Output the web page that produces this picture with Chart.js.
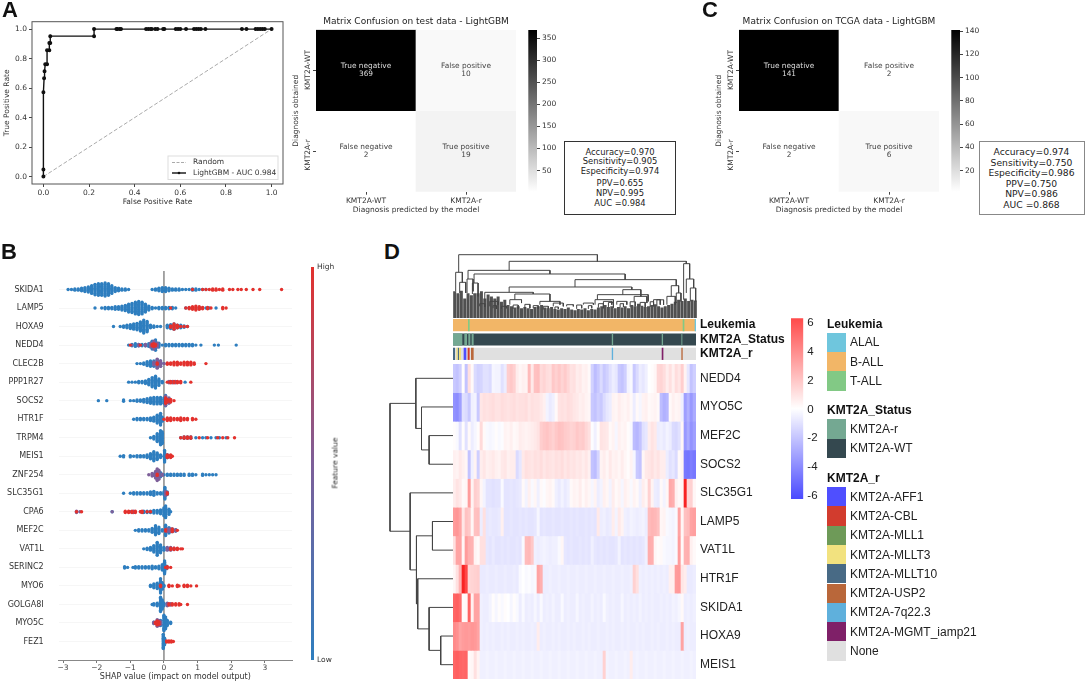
<!DOCTYPE html>
<html>
<head>
<meta charset="utf-8">
<title>KMT2A LightGBM figure</title>
<script src="https://cdn.jsdelivr.net/npm/chart.js@4"></script>
<style>
  body { margin: 0; background: #fff; width: 1086px; height: 683px; position: relative; overflow: hidden; }
  canvas { position: absolute; }
  .note { position: absolute; white-space: nowrap; color: #222; line-height: 1; }
  .box { position: absolute; box-sizing: border-box; background: #fff; }
  .swatch { position: absolute; left: 827px; width: 19px; }
</style>
</head>
<body>
<script>
// ---- panel A/C data
const rocFpr = [0,0,0,0.003,0.005,0.008,0.016,0.016,0.026,0.026,0.03,0.03,0.222,0.222,0.32,0.325,0.335,0.34,0.45,0.46,0.47,0.475,0.49,0.5,0.525,0.53,0.58,0.59,0.6,0.625,0.66,0.67,0.68,0.69,0.71,0.87,0.89,0.93,0.94,0.95,0.96,0.97,1];
const rocTpr = [0,0.048,0.571,0.667,0.714,0.762,0.762,0.857,0.857,0.905,0.905,0.952,0.952,1,1,1,1,1,1,1,1,1,1,1,1,1,1,1,1,1,1,1,1,1,1,1,1,1,1,1,1,1,1];
const rateTicks = [0,0.2,0.4,0.6,0.8,1];

const cmCols = ['KMT2A-WT','KMT2A-r'];
const cmNames = [['True negative','False positive'],['False negative','True positive']];
const cmTest = [[369,10],[2,19]];
const cmTcga = [[141,2],[2,6]];
const cbTicksTest = [50,100,150,200,250,300,350];
const cbTicksTcga = [20,40,60,80,100,120,140];
const statsTest = ['Accuracy=0.970','Sensitivity=0.905','Especificity=0.974','PPV=0.655','NPV=0.995','AUC =0.984'];
const statsTcga = ['Accuracy=0.974','Sensitivity=0.750','Especificity=0.986','PPV=0.750','NPV=0.986','AUC =0.868'];

// ---- panel B data, [shap value, how many samples]
const swarmFeatures = ['SKIDA1','LAMP5','HOXA9','NEDD4','CLEC2B','PPP1R27','SOCS2','HTR1F','TRPM4','MEIS1','ZNF254','SLC35G1','CPA6','MEF2C','VAT1L','SERINC2','MYO6','GOLGA8I','MYO5C','FEZ1'];
const swarmLow = [
  [[-2.85,1],[-2.75,1],[-2.65,2],[-2.55,2],[-2.45,3],[-2.35,4],[-2.25,5],[-2.15,7],[-2.05,9],[-1.95,10],[-1.85,10],[-1.75,11],[-1.65,10],[-1.55,7],[-1.45,4],[-1.35,3],[-1.25,2],[-1.15,2],[-1.05,1],[-0.35,1],[-0.25,2],[-0.15,3],[-0.05,4],[0.05,4],[0.15,3],[0.25,2],[0.35,2],[0.45,2],[0.55,1],[0.65,1],[0.75,1],[0.85,2],[0.95,2],[1.05,1],[1.15,1],[1.25,1]],
  [[-2.05,1],[-1.85,1],[-1.75,2],[-1.65,2],[-1.55,2],[-1.45,3],[-1.35,3],[-1.25,4],[-1.15,5],[-1.05,7],[-0.95,8],[-0.85,10],[-0.75,11],[-0.65,10],[-0.55,7],[-0.45,4],[-0.35,2],[-0.25,1],[-0.15,2],[-0.05,2],[0.05,2],[0.15,2],[0.25,2],[0.35,1],[0.65,1],[0.75,1],[0.85,1],[1.05,2],[1.15,1],[1.25,1],[1.35,1],[1.55,1]],
  [[-1.5,1],[-1.3,1],[-1.2,2],[-1.1,3],[-1,4],[-0.9,5],[-0.8,6],[-0.7,8],[-0.6,11],[-0.5,9],[-0.4,3],[-0.3,2],[-0.2,1],[-0.1,1],[0.1,3],[0.2,4],[0.3,5],[0.4,3],[0.5,3],[0.6,2],[0.7,1]],
  [[-1.05,1],[-0.95,2],[-0.85,3],[-0.75,2],[-0.65,2],[-0.55,2],[-0.45,3],[-0.35,7],[-0.25,9],[-0.15,4],[-0.05,1],[0.05,2],[0.15,2],[0.25,2],[0.35,2],[0.45,2],[0.55,2],[0.65,2],[0.75,2],[0.85,2],[0.95,1],[1.1,1],[1.5,1],[1.62,1],[2.15,1]],
  [[-0.8,1],[-0.7,1],[-0.6,2],[-0.5,4],[-0.4,5],[-0.3,5],[-0.2,7],[-0.1,5],[0,1]],
  [[-1.05,1],[-0.95,1],[-0.85,1],[-0.75,2],[-0.65,2],[-0.55,3],[-0.45,5],[-0.35,8],[-0.25,10],[-0.15,6],[-0.05,2],[0.63,1]],
  [[-1.95,1],[-1.7,1],[-1.2,2],[-1,1],[-0.9,1],[-0.8,2],[-0.7,2],[-0.6,3],[-0.5,4],[-0.4,5],[-0.3,6],[-0.2,6],[-0.1,6],[0,5],[0.05,9]],
  [[-0.9,1],[-0.8,2],[-0.7,2],[-0.6,2],[-0.5,2],[-0.4,3],[-0.3,4],[-0.2,7],[-0.1,10],[-0.05,4]],
  [[-0.4,1],[-0.3,3],[-0.2,7],[-0.1,12],[-0.05,10],[0.5,1],[0.6,2],[0.7,2],[0.8,2],[0.95,1],[1.15,1],[1.25,1],[1.4,1],[1.55,1],[1.65,1],[1.85,1]],
  [[-1.3,1],[-1.2,2],[-1,2],[-0.9,1],[-0.8,2],[-0.7,2],[-0.6,2],[-0.5,3],[-0.4,5],[-0.3,8],[-0.2,6],[-0.1,3],[0,1],[0.02,10],[0.1,3]],
  [[-0.3,2],[-0.2,6],[-0.1,4],[0,1],[0.1,2],[0.2,2],[0.3,2],[0.4,2],[0.5,2],[0.6,2],[0.75,2],[0.85,2],[0.95,1],[1.15,2],[1.25,1],[1.35,1],[1.45,1],[1.55,1]],
  [[-1.2,1],[-1,1],[-0.9,2],[-0.8,2],[-0.7,2],[-0.6,2],[-0.5,2],[-0.4,3],[-0.3,4],[-0.2,2],[-0.1,2],[0,3],[0.03,10],[0.1,3]],
  [[-1.54,1],[-0.7,1],[-0.6,2],[-0.5,2],[-0.4,2],[-0.3,3],[-0.2,3],[-0.1,4],[0,7],[0.05,10],[0.15,5],[0.2,1]],
  [[-0.85,1],[-0.75,2],[-0.65,2],[-0.55,2],[-0.45,2],[-0.35,4],[-0.25,8],[-0.15,6],[-0.05,2],[0.05,9],[0.15,5],[0.25,3],[0.35,2]],
  [[-0.6,1],[-0.5,2],[-0.4,3],[-0.3,6],[-0.2,11],[-0.1,7],[0,3],[0.1,2],[0.2,2]],
  [[-1.17,2],[-1.08,1],[-0.92,1],[-0.85,2],[-0.75,2],[-0.65,2],[-0.55,2],[-0.45,2],[-0.35,3],[-0.25,2],[-0.15,3],[-0.05,5],[0.02,11],[0.08,3]],
  [[-0.4,2],[-0.3,4],[-0.2,5],[-0.1,12],[-0.05,6],[0,2]],
  [[-0.35,1],[-0.3,2],[-0.2,3],[-0.1,12],[-0.05,8],[0,3]],
  [[-0.3,2],[-0.2,3],[-0.1,5],[0,13],[0.05,10],[0.1,5],[0.2,2]],
  [[-0.02,12],[0.02,6]]
];
const swarmMid = [
  [],[],[],
  [[-0.95,1],[-0.75,2],[-0.55,2],[-0.4,4],[-0.3,7],[-0.2,4]],
  [[-0.3,3],[-0.2,8],[-0.1,5],[0,1]],
  [[0.15,2],[0.25,2],[0.35,2],[0.45,1]],
  [[0.05,8],[0.15,5]],
  [[0.1,1]],
  [],
  [[0.1,3],[0.2,2]],
  [[-0.45,1],[-0.35,3],[-0.25,6],[-0.2,10],[-0.15,8],[-0.05,2]],
  [[0.05,4]],
  [[-2.6,2],[-2.5,1],[-1.54,1],[-1,1],[-0.9,2]],
  [[0.1,3],[0.2,3],[0.35,2]],
  [[0.1,3],[0.2,3],[0.3,2]],
  [],[],
  [[0.1,3],[0.2,2]],
  [[-0.3,2],[-0.2,6],[-0.15,5],[-0.1,3]],
  []
];
const swarmHigh = [
  [[0.85,1],[1.15,1],[1.25,1],[1.35,1],[1.45,2],[1.55,2],[1.65,1],[1.75,2],[1.95,1],[2.05,1],[2.2,1],[2.3,1],[2.45,1],[2.65,1],[2.85,1],[3.5,1]],
  [[0.2,1],[0.65,1],[0.75,2],[0.85,3],[0.95,4],[1.05,3],[1.15,2],[1.3,2],[1.4,1],[1.75,2],[1.85,1]],
  [[0.2,2],[0.3,5],[0.4,3],[0.5,1],[0.6,1],[0.7,1]],
  [[-1,1],[-0.7,1],[-0.35,2],[-0.3,3],[-0.25,2]],
  [[-0.2,2],[0.1,2],[0.2,2],[0.3,3],[0.4,3],[0.5,2],[0.6,3],[0.7,3],[0.8,3],[0.9,2],[1.25,1]],
  [[0.1,1],[0.2,2],[0.3,2],[0.4,2],[0.5,2],[0.8,1]],
  [[0.05,5],[0.1,3],[0.2,3],[0.3,1]],
  [[0,1],[0.1,3],[0.2,3],[0.3,2],[0.4,2],[0.5,3],[0.6,2],[0.7,2],[0.85,2],[0.95,1]],
  [[0.5,1],[0.6,2],[0.7,2],[0.8,2],[1.05,1],[1.3,1],[1.6,1],[1.75,1],[1.9,1],[2.1,1]],
  [[0.1,3],[0.2,3],[0.25,1]],
  [[-0.2,2]],
  [[0.1,2]],
  [[-2.6,1],[-2.45,1],[-1.15,2],[-1.05,2],[-0.95,2],[-0.85,2],[-0.7,1],[-0.65,2],[-0.5,1],[-0.4,1]],
  [[0.05,2],[0.25,3],[0.4,1]],
  [[0.2,2],[0.3,2],[0.4,2],[0.5,1],[0.55,1]],
  [[0.05,1],[0.1,2],[0.2,1]],
  [[-0.1,2],[0.15,2],[0.25,1],[0.4,2],[0.45,1],[0.6,2],[0.7,2],[0.8,1],[0.97,1]],
  [[0.15,2],[0.25,2],[0.35,2],[0.45,2],[0.5,1],[0.7,1]],
  [[-0.25,2],[-0.2,4],[-0.15,3]],
  [[0.08,2],[0.15,2],[0.22,2],[0.28,1]]
];
const shapTicks = [-3,-2,-1,0,1,2,3];

// ---- panel D data
const heatRows = ['NEDD4','MYO5C','MEF2C','SOCS2','SLC35G1','LAMP5','VAT1L','HTR1F','SKIDA1','HOXA9','MEIS1'];
const heatNEDD4 = [-1.8,-2,-1.6,0.1,-2,1,0.2,-1.2,-1.5,-1.4,-1,-1,-1.2,-0.3,-0.4,-0.4,-1,-0.6,1.6,1.8,1.5,0.6,0.3,0.5,0.4,2.2,0.7,2,2.1,1.2,1.4,1.1,1,1.8,1.5,1.8,1.4,1.7,1.3,0.9,1,0.6,0.7,0.4,0.5,0.2,-1.5,-2.2,-1.8,-1.2,-1.8,-1.5,-1,-0.6,-0.8,-1.8,-2,-1.6,-0.4,-0.2,-1.8,-1.2,-0.6,-0.8,-0.5,0,0.1,0.3,1.3,1.4,1.1,0.6,1,0.5,1.1,0.8,1.6,0.4,-0.8,-2,-1.6];
const heatMYO5C = [-3.6,-3.8,-3.2,-1,-1.2,-1.8,-0.5,-0.4,-1.8,0.8,1,0.9,1,1.1,0.9,0.9,1.1,1,0.9,1,1.1,0.9,1,1,1.1,0.8,1,0.9,0.9,0.7,0.5,-0.4,-0.7,-0.5,0.2,0.9,1,0.9,1.1,1,0.8,0.7,0.5,0.6,0.4,0.3,-1.8,-2,-1.6,-1.8,-1.2,-0.8,-0.6,0.4,0.3,0.6,0.4,0.3,0.5,0.2,-0.6,0.2,-0.3,0.4,0.5,0.2,0.3,0.4,0.2,-2.2,-2.6,-2.4,0.2,0.5,0.3,0.4,-0.5,-3.2,-2.6,-3.4,-2.8];
const heatMEF2C = [0.1,-0.2,-1,0.1,-1,0.2,-0.6,-0.3,0.1,1.2,0.2,-0.2,-0.3,-0.2,0.1,-0.2,-0.1,0.4,0.3,0.5,0.2,0.3,0.6,0.5,0.4,0.5,0.6,0.7,0.9,1.6,1.8,1.9,1.7,1.5,1.8,2,1.9,1.7,1.6,1.4,1.5,1.8,1.6,1.7,1.3,1,-0.1,-0.5,0.1,0.9,0.8,0.7,0.2,0.4,-0.3,0.5,0.3,0.4,0.1,-0.2,-2.2,-2.4,-2,-1,-0.8,0.6,0.9,0.7,-0.6,-0.5,-0.7,-0.4,-0.6,-1.2,-1.3,-1,0.3,-3.4,-2.8,-3.6,-3.2];
const heatSOCS2 = [0.5,0.4,0.7,0.5,0.3,-2,-0.5,0.4,-1.6,0.6,0.8,0.5,0.6,0.7,0.5,0.4,0.7,0.8,0.5,0.6,0.6,-1.2,-0.8,0.7,1,0.9,0.8,1,0.9,1.1,0.8,1,0.9,0.8,1,0.9,1.1,0.8,1,0.8,0.9,0.7,0.8,0.6,0.8,0.5,-2,-2.2,-1.4,0.4,0.6,0.3,0.7,0.4,0.5,0.3,0.6,0.3,0.1,0.4,-0.3,-1.8,-2,0.3,0.7,0.8,1,0.7,0.9,0.6,0.6,-0.6,-1,-0.8,-1.2,0.2,0.4,-4.5,-4.6,-4.3,-4.5];
const heatSLC35G1 = [0.6,0.9,0.7,0.2,0.3,3.2,0.4,1.6,1.4,0.3,-0.4,-0.9,-0.9,-1,-0.9,-0.9,-0.2,-0.9,-0.9,-0.8,-0.9,-0.8,-0.7,0.2,-0.4,0.5,-0.2,0.3,-0.5,0.2,-0.1,0.3,0.4,0.2,-0.5,-0.7,-0.4,-0.7,-0.5,0.2,0.4,0.3,0.6,0.2,0.5,0.3,-0.3,0.4,-0.6,-0.4,0.5,0.3,-0.4,0.6,0.2,0.4,-0.3,0.5,0.3,-0.2,0.4,0.2,-0.5,0.6,0.3,1.5,0.4,-0.6,-0.7,0.2,-0.4,0.3,2.8,2.6,0.5,0.2,0.3,6.5,1.4,1.5,0.3];
const heatLAMP5 = [3.2,3.4,3,0.8,2,1.8,0.3,2,2.1,-0.6,1,-0.8,-0.7,-0.8,-0.8,-0.7,0.5,-0.9,-0.9,-0.8,-0.9,-0.9,-0.8,-0.9,-0.8,-0.9,-0.9,-0.8,-0.3,-0.9,-0.8,-0.9,-0.9,-0.8,-0.9,-0.9,-0.8,-0.9,-0.9,-0.8,-0.9,-0.8,-0.9,-0.9,-0.8,-0.9,-0.8,-0.9,0.7,-0.6,-0.5,-0.7,-0.6,0.6,-0.4,0.7,0.4,-0.5,-0.6,-0.4,-0.5,-0.6,-0.5,-0.4,-0.6,2.2,2.4,2.3,2,0.3,0.4,-0.2,-0.3,-0.4,-0.2,3,0.3,2,2.2,3,3.1];
const heatVAT1L = [1,3,3,0.3,3.2,2.6,2.5,0.4,0.2,1,1,-0.8,-0.9,-0.7,-0.9,-0.9,-0.8,-0.9,-0.8,-0.9,-0.9,-0.8,-0.9,-0.2,2.2,2.3,1.8,-0.5,-0.6,-0.5,-0.4,-0.5,-0.6,-0.5,-0.5,-0.2,0.3,-0.8,-0.9,-0.8,-0.9,-0.9,-0.8,-0.9,-0.8,-0.9,-0.5,-0.8,-0.9,-0.8,-0.9,-0.8,-0.9,-0.9,-0.8,-0.4,-0.9,-0.8,-0.9,-0.8,-0.9,-0.8,-0.9,-0.8,-0.5,2.7,2.6,0.3,0.1,0.2,-0.2,-0.3,-0.3,-0.4,-0.2,3.2,0.2,2.5,2.6,0.5,0.2];
const heatHTR1F = [0.3,1,2.5,6.5,6,1.3,1.4,1.5,1.6,-0.7,-0.7,-0.6,-0.7,-0.7,-0.6,-0.7,-0.7,-0.6,-0.7,-0.7,-0.6,-0.7,-0.2,0,-0.2,-0.1,-0.3,-0.2,3,2.6,-0.6,-0.6,-0.5,-0.6,-0.6,-0.5,-0.6,-0.6,-0.5,-0.6,-0.6,-0.5,-0.6,-0.6,-0.5,-0.6,-0.6,-0.5,-0.6,-0.6,-0.5,-0.6,-0.6,-0.5,-0.6,-0.6,-0.5,-0.6,-0.6,-0.5,1.5,1,-0.5,-0.6,-0.5,-0.6,-0.5,-0.6,-0.5,-0.6,-0.5,-0.6,0.5,0.5,3.2,3.3,0.8,0.6,-0.7,-0.7,-0.6];
const heatSKIDA1 = [5,5.2,4.8,0.1,0.2,5,0.5,3,3,-0.5,-0.6,-0.6,-0.4,0.1,-0.3,0.1,-0.2,0.1,0,-0.3,0.1,-0.2,-0.6,-0.2,-0.6,-0.5,-0.6,-0.3,-0.6,-0.2,-0.6,-0.5,-0.6,-0.4,-0.6,-0.6,-0.2,-0.6,-0.5,-0.6,-0.6,-0.3,-0.6,-0.5,-0.6,-0.6,-0.4,-0.6,-0.5,-0.6,-0.2,-0.5,-0.6,-0.5,-0.6,-0.6,-0.3,-0.6,-0.5,-0.6,-0.5,-0.6,-0.4,-0.6,-0.5,-0.6,-0.5,-0.6,-0.6,-0.5,-0.6,-0.5,-0.6,-0.4,-0.5,-0.3,0.2,-0.6,-0.5,-0.6,-0.5];
const heatHOXA9 = [3.8,3.6,3,3.2,3.3,3.2,3.4,3.3,3,-0.5,-0.6,-0.5,-0.6,-0.5,-0.6,-0.6,-0.5,-0.6,-0.5,-0.6,-0.6,-0.5,-0.6,-0.5,-0.6,-0.6,-0.5,-0.6,0.6,-0.6,-0.5,-0.6,-0.6,-0.5,-0.6,-0.5,-0.6,-0.6,-0.5,-0.6,-0.5,-0.6,-0.6,-0.5,-0.6,-0.5,-0.6,-0.6,-0.5,-0.6,-0.6,-0.5,-0.6,-0.5,-0.6,-0.6,-0.5,-0.6,-0.5,-0.6,-0.6,-0.5,-0.6,-0.5,-0.6,-0.6,-0.5,-0.6,-0.5,-0.6,-0.6,-0.5,-0.6,-0.5,-0.6,-0.6,3,-0.6,-0.5,-0.6,-0.6];
const heatMEIS1 = [5,5.2,5,4.9,5,0.2,0.3,1,0.4,-0.5,-0.5,-0.4,-0.5,-0.5,-0.4,-0.5,-0.5,-0.4,-0.5,-0.5,-0.4,-0.5,-0.5,-0.4,-0.5,-0.5,-0.4,-0.5,-0.5,-0.4,-0.5,-0.5,-0.4,-0.5,-0.5,-0.4,-0.5,-0.5,-0.4,-0.5,-0.5,-0.4,-0.5,-0.5,-0.4,-0.5,-0.5,-0.4,-0.5,-0.5,1.5,-0.4,-0.5,-0.5,-0.4,-0.5,-0.5,-0.4,-0.5,0.6,-0.5,-0.4,-0.5,-0.5,-0.4,-0.5,-0.5,-0.4,-0.5,-0.5,-0.4,-0.5,-0.5,-0.4,-0.5,-0.5,-0.4,-0.5,-0.5,-0.4,-0.5];
const heatValues = [heatNEDD4,heatMYO5C,heatMEF2C,heatSOCS2,heatSLC35G1,heatLAMP5,heatVAT1L,heatHTR1F,heatSKIDA1,heatHOXA9,heatMEIS1];
const heatCbTicks = [6,4,2,0,-2,-4,-6];

// annotation tracks, [first sample, last sample, class]; later entries sit underneath
const trackNames = ['Leukemia','KMT2A_Status','KMT2A_r'];
const leukemiaTrack = [[9,10,'T-ALL'],[138,139,'T-ALL'],[145.2,146,'ALAL'],[0,146,'B-ALL']];
const statusTrack = [[0,5.6,'KMT2A-r'],[6.8,8.4,'KMT2A-r'],[9.2,10.4,'KMT2A-r'],[11.2,12.4,'KMT2A-r'],[95.4,96.2,'KMT2A-r'],[125.4,126.2,'KMT2A-r'],[137.2,137.8,'KMT2A-r'],[0,146,'KMT2A-WT']];
const rTrack = [[0,1.2,'KMT2A-MLLT10'],[2,2.8,'KMT2A-MLLT3'],[2.8,3.6,'KMT2A-MLLT10'],[3.6,4.8,'KMT2A-MLLT3'],[6.4,8,'KMT2A-AFF1'],[8.8,10,'KMT2A-CBL'],[10.8,12.4,'KMT2A-USP2'],[95.4,96.2,'KMT2A-7q22.3'],[125.4,126.4,'KMT2A-MGMT_iamp21'],[137.2,138,'KMT2A-USP2'],[0,146,'None']];

const legendLeukemia = [['ALAL','#6fc6dd'],['B-ALL','#f2b667'],['T-ALL','#82c985']];
const legendStatus = [['KMT2A-r','#74a892'],['KMT2A-WT','#34484f']];
const legendR = [['KMT2A-AFF1','#4f4fff'],['KMT2A-CBL','#d23c2e'],['KMT2A-MLL1','#6e9a58'],['KMT2A-MLLT3','#f2e27f'],['KMT2A-MLLT10','#486a85'],['KMT2A-USP2','#b9673a'],['KMT2A-7q22.3','#5fb0dc'],['KMT2A-MGMT_iamp21','#7f2068'],['None','#e0e0e0']];

// dendrograms, [pos a, height a, pos b, height b, join height]
const colMerges = [
  [3.4,70.3,86.4,87.2,97.4],[33.6,73.3,139.6,83.6,87.2],[9,60,58,67.7,73.3],[12.6,53.8,103,59,67.7],
  [73,47.7,133.6,49.7,59],[33.6,39.5,107,43.6,47.7],[101.6,35.9,112.4,33.3,43.6],[19,25.6,48,36.9,39.5],
  [37,28.2,58,25.6,36.9],[34,20.5,41,23,28.2],[52,20.5,64,20.5,25.6],[86.4,28.2,116.8,25.6,35.9],
  [85,20.5,96,20.5,28.2],[108.4,25.6,116,23,33.3],[130.6,33.3,135,38.5,49.7],[128,20.5,133,20.5,33.3],
  [133.6,23,136.4,25.6,38.5],[138,28.2,141.6,60,83.6],[139.6,38.5,144,46.2,60],[142,25.6,145.2,25.6,46.2],
  [1.6,41,5.6,54.9,70.3],[4,38.5,7.6,38.5,54.9],[8.4,38.5,12,41,60],[11.6,36.9,15,33.3,53.8],
  [22,17.9,27,20.5,25.6],[60,17.9,66,17.9,23],[68,17.9,72,17.9,20.5],[78,20.5,84,20.5,23],
  [90,17.9,95,20.5,25.6],[98,20.5,104,20.5,25.6],[120,20.5,124,20.5,28.2],
  [16,18,19,17,22],[24,15,26,14,19],[29,14,32,15,18],[36,14,39,14,20],[43,14,46,15,21],
  [48,15,51,14,19],[54,13,57,14,18],[61,13,63,14,17],[74,14,77,15,20],[81,14,83,15,19],
  [87,16,90,15,22],[93,17,96,16,24],[100,16,102,17,22],[106,17,109,18,25],[112,18,115,17,24],
  [118,17,120,18,25],[122,18,126,20,28]
];
const leafTops = [41,38,42,30,38,35,38,38,41,30,36,33,30,33,25,28,20,18,16,18,15,17,15,14,17,18,20,16,15,17,14,13,15,14,16,13,12,14,13,15,12,14,13,16,18,20,17,18,15,17,16,18,15,20,18,22,19,17,18,20,21,18,16,18,20,22,25,28,26,30,26,28,27];
const rowMerges = [
  [2.5,0,3.5,0,37.9],[1.5,0,3,37.9,50],[0.5,0,2.25,50,59],[5.5,0,6.5,0,32.6],[9.5,0,10.5,0,19.5],
  [8.5,0,10,19.5,37.9],[7.5,0,9.25,37.9,56],[6,32.6,8.375,56,58],[4.5,0,7.19,58,68],[1.375,59,5.84,68,100]
];

// ---- setup
Chart.defaults.font.family = '"DejaVu Sans"';
Chart.defaults.font.size = 7.5;
Chart.defaults.color = '#333';
Chart.defaults.animation = false;
Chart.defaults.responsive = false;
Chart.defaults.plugins.legend.display = false;
Chart.defaults.plugins.tooltip.enabled = false;

const SANS = '"Liberation Sans"';
const trackColors = Object.fromEntries([...legendLeukemia, ...legendStatus, ...legendR]);

function place(left, top, w, h) {
  const c = document.createElement('canvas');
  c.width = w; c.height = h;
  c.style.left = left + 'px'; c.style.top = top + 'px';
  document.body.appendChild(c);
  return c;
}
function note(text, x, y, css, anchor) {
  const d = document.createElement('div');
  d.className = 'note';
  d.textContent = text;
  d.style.cssText = 'left:' + x + 'px;top:' + y + 'px;transform:' + (anchor || 'translate(-50%,-50%)') + ';' + (css || '');
  document.body.appendChild(d);
}
// axis sizes are pinned so each plot area lands where it does in the figure
const fixW = w => s => { s.width = w; s.paddingTop = 0; s.paddingBottom = 0; };
const fixH = h => s => { s.height = h; s.paddingLeft = 0; s.paddingRight = 0; };
const setTicks = list => s => { s.ticks = list.map(value => ({ value })); };
const tickMarks = { drawOnChartArea: false, tickLength: 3, tickColor: '#444' };
const noGrid = { display: false, drawTicks: false };

function grey(v, lo, hi) {
  const g = Math.round(255 * (1 - (v - lo) / (hi - lo)));
  return 'rgb(' + g + ',' + g + ',' + g + ')';
}
function heatColor(v) {
  const t = Math.min(Math.abs(v) / 6, 1);
  if (v < 0) return 'rgb(' + Math.round(255 - 180 * t) + ',' + Math.round(255 - 180 * t) + ',255)';
  const hot = Math.max(0, (v - 6) / 1);
  return 'rgb(' + Math.round(255 - 15 * hot) + ',' + Math.round(255 - 185 * t - 70 * hot) + ',' + Math.round(255 - 185 * t - 70 * hot) + ')';
}
function mergePath(list, swap) {
  const pts = [];
  for (const [a, ha, b, hb, top] of list) {
    for (const [p, h] of [[a, ha], [a, top], [b, top], [b, hb]]) pts.push(swap ? { x: h, y: p } : { x: p, y: h });
    pts.push({ x: null, y: null });
  }
  return pts;
}
function swarmPoints(groups) {
  const pts = [];
  groups.forEach((bins, row) => {
    for (const [x, n] of bins) {
      for (let k = 0; k < n; k++) pts.push({ x: x, y: row + (k - (n - 1) / 2) * 0.07 });
    }
  });
  return pts;
}

// ---- colour bars, one floating bar filled with a gradient
function colorBar(left, top, w, h, pad, range, ticks, stops, opts) {
  new Chart(place(left, top, w, h), {
    type: 'bar',
    data: {
      labels: [''],
      datasets: [{
        data: [range],
        barPercentage: 1,
        categoryPercentage: 1,
        backgroundColor: ctx => {
          const a = ctx.chart.chartArea;
          if (!a) return '#888';
          const g = ctx.chart.ctx.createLinearGradient(0, a.top, 0, a.bottom);
          stops.forEach((c, i) => g.addColorStop(i / (stops.length - 1), c));
          return g;
        }
      }]
    },
    options: {
      layout: { padding: pad },
      scales: {
        x: { display: false },
        y: {
          position: 'right', min: range[0], max: range[1],
          border: { display: false },
          grid: opts.grid,
          ticks: opts.ticks,
          afterBuildTicks: setTicks(ticks),
          afterFit: fixW(opts.width)
        }
      }
    }
  });
}

// ---- panel A roc
const rocFrame = {
  id: 'rocFrame',
  afterDraw(chart) {
    const { ctx, chartArea: a } = chart;
    ctx.save();
    ctx.strokeStyle = '#555'; ctx.lineWidth = 1;
    ctx.strokeRect(a.left, a.top, a.right - a.left, a.bottom - a.top);
    const x = 168, y = 142, w = 110, h = 23.5;
    ctx.strokeStyle = '#ddd'; ctx.fillStyle = 'rgba(255,255,255,.8)';
    ctx.fillRect(x, y, w, h); ctx.strokeRect(x, y, w, h);
    ctx.strokeStyle = '#aaa'; ctx.setLineDash([3, 1.5]);
    ctx.beginPath(); ctx.moveTo(x + 4, y + 6.5); ctx.lineTo(x + 18, y + 6.5); ctx.stroke();
    ctx.setLineDash([]); ctx.strokeStyle = '#111'; ctx.lineWidth = 1.4;
    ctx.beginPath(); ctx.moveTo(x + 4, y + 17); ctx.lineTo(x + 18, y + 17); ctx.stroke();
    ctx.fillStyle = '#111'; ctx.beginPath(); ctx.arc(x + 11, y + 17, 1.3, 0, 7); ctx.fill();
    ctx.fillStyle = '#333'; ctx.font = '7.5px "DejaVu Sans"'; ctx.textBaseline = 'middle';
    ctx.fillText('Random', x + 25, y + 6.5);
    ctx.fillText('LightGBM - AUC 0.984', x + 25, y + 17);
    ctx.restore();
  }
};
new Chart(place(0, 14, 290, 194), {
  type: 'scatter',
  data: {
    datasets: [
      { data: rocFpr.map((x, i) => ({ x, y: rocTpr[i] })), showLine: true, borderColor: '#111', backgroundColor: '#111', borderWidth: 1.4, pointRadius: 1.3 },
      { data: [{ x: 0, y: 0 }, { x: 1, y: 1 }], showLine: true, borderColor: '#aaa', borderWidth: 1, borderDash: [4, 2], pointRadius: 0 }
    ]
  },
  options: {
    layout: { padding: { top: 7.7, right: 7 } },
    scales: {
      x: {
        min: -0.05, max: 1.05, grid: tickMarks, border: { display: false },
        afterBuildTicks: setTicks(rateTicks), afterFit: fixH(24),
        ticks: { padding: 2, maxRotation: 0, callback: v => v.toFixed(1) },
        title: { display: true, text: 'False Positive Rate', padding: { top: 0, bottom: 1 } }
      },
      y: {
        min: -0.05, max: 1.05, grid: tickMarks, border: { display: false },
        afterBuildTicks: setTicks(rateTicks), afterFit: fixW(32),
        ticks: { padding: 2, callback: v => v.toFixed(1) },
        title: { display: true, text: 'True Positive Rate', padding: { top: 3, bottom: 0 } }
      }
    }
  },
  plugins: [rocFrame]
});

// ---- panels A/C confusion matrices
function confusion(left, counts, titleText) {
  const hi = counts[0][0], lo = 2;
  const cellText = {
    id: 'cellText',
    afterDatasetsDraw(chart) {
      const { ctx, scales: { x, y } } = chart;
      ctx.save();
      ctx.font = '7.4px "DejaVu Sans"'; ctx.textAlign = 'center'; ctx.textBaseline = 'middle';
      counts.forEach((row, r) => row.forEach((v, c) => {
        ctx.fillStyle = v > hi / 2 ? '#ddd' : '#444';
        const px = x.getPixelForValue(c), py = y.getPixelForValue(r + 0.5);
        ctx.fillText(cmNames[r][c], px, py - 4.5);
        ctx.fillText(String(v), px, py + 4);
      }));
      ctx.restore();
    }
  };
  new Chart(place(left, 16, 226, 200), {
    type: 'bar',
    data: {
      labels: cmCols,
      datasets: counts.map(row => ({
        data: row.map(() => 1),
        backgroundColor: row.map(v => grey(v, lo, hi)),
        barPercentage: 1, categoryPercentage: 1
      }))
    },
    options: {
      plugins: {
        title: { display: true, text: titleText, fullSize: false, color: '#222', font: { size: 9, weight: 'normal' }, padding: { top: 0, bottom: 3 } }
      },
      scales: {
        x: {
          stacked: true, afterFit: fixH(24.3), border: { display: false },
          grid: { drawOnChartArea: false, tickLength: 3, tickColor: '#444', offset: false },
          ticks: { padding: 2, maxRotation: 0 },
          title: { display: true, text: 'Diagnosis predicted by the model', padding: { top: 0, bottom: 1 } }
        },
        y: {
          stacked: true, reverse: true, min: 0, max: 2, afterFit: fixW(26), border: { display: false },
          grid: tickMarks, afterBuildTicks: setTicks([0.5, 1.5]),
          ticks: { display: false },
          title: { display: true, text: 'Diagnosis obtained', padding: { top: 2, bottom: 0 } }
        }
      }
    },
    plugins: [cellText]
  });
  note(cmCols[0], left + 17, 70, 'font:7.5px "DejaVu Sans";color:#333', 'translate(-50%,-50%) rotate(-90deg)');
  note(cmCols[1], left + 17, 155, 'font:7.5px "DejaVu Sans";color:#333', 'translate(-50%,-50%) rotate(-90deg)');
}
confusion(290, cmTest, 'Matrix Confusion on test data - LightGBM');
confusion(713, cmTcga, 'Matrix Confusion on TCGA data - LightGBM');

const cmBarOpts = { width: 36, grid: tickMarks, ticks: { padding: 2 } };
colorBar(523, 25, 50, 172, { left: 5.3, top: 5, bottom: 5.3 }, [2, 369], cbTicksTest, ['#000', '#fff'], cmBarOpts);
colorBar(946, 25, 50, 172, { left: 5.3, top: 5, bottom: 5.3 }, [2, 141], cbTicksTcga, ['#000', '#fff'], cmBarOpts);

function statsBox(left, top, w, h, border, lines, ys, size) {
  const b = document.createElement('div');
  b.className = 'box';
  b.style.cssText = 'left:' + left + 'px;top:' + top + 'px;width:' + w + 'px;height:' + h + 'px;border:1.3px solid ' + border;
  document.body.appendChild(b);
  lines.forEach((t, i) => note(t, left + w / 2, ys[i], 'font:' + size + 'px "DejaVu Sans"'));
}
statsBox(564, 140.5, 112, 74, '#333', statsTest, [151.7, 161.2, 171, 183, 193, 202.7], 8.4);
statsBox(978.5, 141, 106, 74, '#888', statsTcga, [151, 161.5, 172, 182.7, 193, 203.7], 9.2);

// ---- panel B swarm
new Chart(place(0, 267, 296, 416), {
  type: 'scatter',
  data: {
    datasets: [
      { data: swarmPoints(swarmHigh), backgroundColor: '#e3312d', pointRadius: 1.7, borderWidth: 0 },
      { data: swarmPoints(swarmMid), backgroundColor: '#7d5f99', pointRadius: 1.7, borderWidth: 0 },
      { data: swarmPoints(swarmLow), backgroundColor: '#2e7ebf', pointRadius: 1.7, borderWidth: 0 },
      { data: [{ x: 0, y: -1 }, { x: 0, y: 20 }], showLine: true, borderColor: '#999', borderWidth: 1, pointRadius: 0 }
    ]
  },
  options: {
    scales: {
      x: {
        min: -3.13, max: 3.81, afterFit: fixH(23),
        grid: { drawOnChartArea: false, tickLength: 3, tickColor: '#777' },
        border: { color: '#888' },
        afterBuildTicks: setTicks(shapTicks),
        ticks: { padding: 1, color: '#444', maxRotation: 0, callback: v => String(v).replace('-', '\u2212') },
        title: { display: true, text: 'SHAP value (impact on model output)', font: { size: 8 }, padding: { top: 0, bottom: 1 } }
      },
      y: {
        min: -1, max: 20, reverse: true, afterFit: fixW(58.7),
        border: { display: false },
        grid: { color: '#f2f2f2', lineWidth: 0.7, drawTicks: false },
        afterBuildTicks: setTicks(swarmFeatures.map((n, i) => i)),
        ticks: { padding: 15, font: { size: 8 }, color: '#333', autoSkip: false, callback: v => swarmFeatures[v] }
      }
    }
  }
});
colorBar(305, 257, 45, 413, { left: 6, top: 10, bottom: 10 }, [0, 1], [0, 1], ['#e3312d', '#7d5f99', '#2e7ebf'], {
  width: 36, grid: noGrid,
  ticks: { padding: 3, font: { size: 7.5 }, callback: v => (v === 1 ? 'High' : 'Low') }
});
note('Feature value', 335, 463, 'font:7.5px "DejaVu Sans";color:#333', 'translate(-50%,-50%) rotate(-90deg)');

// ---- panel D column dendrogram
new Chart(place(453, 250, 244, 68), {
  type: 'scatter',
  data: {
    datasets: [
      { data: mergePath(colMerges), showLine: true, borderColor: '#444', borderWidth: 1, pointRadius: 0, spanGaps: false, clip: false },
      { data: mergePath(leafTops.map((h, i) => [2 * i + 1, 0, 2 * i + 1, 0, h])), showLine: true, borderColor: '#505050', borderWidth: 3, pointRadius: 0, spanGaps: false, clip: false }
    ]
  },
  options: {
    layout: { padding: { top: 3 } },
    scales: { x: { display: false, min: 0, max: 146 }, y: { display: false, min: 0, max: 100 } }
  }
});

// ---- panel D annotation tracks
const trackDatasets = [];
[leukemiaTrack, statusTrack, rTrack].forEach((track, row) => {
  for (const [a, b, name] of track) {
    const data = [null, null, null];
    data[row] = [a, b];
    trackDatasets.push({ data, backgroundColor: trackColors[name], grouped: false, barPercentage: 0.85, categoryPercentage: 1 });
  }
});
new Chart(place(453, 318, 343, 43), {
  type: 'bar',
  data: { labels: trackNames, datasets: trackDatasets },
  options: {
    indexAxis: 'y',
    scales: {
      x: { display: false, min: 0, max: 146 },
      y: {
        position: 'right', afterFit: fixW(100), grid: noGrid, border: { display: false },
        ticks: { padding: 4, autoSkip: false, color: '#111', font: { family: SANS, size: 12, weight: 'bold' } }
      }
    }
  }
});

// ---- panel D heatmap, one stacked bar per sample column
new Chart(place(453, 364, 343, 315), {
  type: 'bar',
  data: {
    labels: heatNEDD4.map((v, i) => i),
    datasets: heatValues.map(row => ({
      data: row.map(() => 1),
      backgroundColor: row.map(heatColor),
      barPercentage: 1, categoryPercentage: 1
    }))
  },
  options: {
    scales: {
      x: { display: false, stacked: true },
      y: { display: false, stacked: true, reverse: true, min: 0, max: 11 },
      yGene: {
        axis: 'y', type: 'category', labels: heatRows, position: 'right', offset: true,
        afterFit: fixW(100), grid: noGrid, border: { display: false },
        ticks: { padding: 4, autoSkip: false, color: '#222', font: { family: SANS, size: 12 } }
      }
    }
  }
});

// ---- panel D row dendrogram
new Chart(place(388, 364, 65.3, 315), {
  type: 'scatter',
  data: { datasets: [{ data: mergePath(rowMerges, true), showLine: true, borderColor: '#444', borderWidth: 1, pointRadius: 0, spanGaps: false, clip: false }] },
  options: {
    layout: { padding: { left: 2 } },
    scales: { x: { display: false, reverse: true, min: 0, max: 100 }, y: { display: false, reverse: true, min: 0, max: 11 } }
  }
});

colorBar(785, 310, 50, 197, { left: 6, top: 8.3, bottom: 8 }, [-6.2, 6.3], heatCbTicks, ['#ff4a4a', '#ffffff', '#4a4aff'], {
  width: 31.7, grid: noGrid,
  ticks: { padding: 4, color: '#222', font: { family: SANS, size: 11.5 } }
});

// ---- panel D legend
function legendGroup(title, titleY, items, firstY) {
  note(title, 827, titleY, 'font:bold 12px ' + SANS + ';color:#111', 'translate(0,-50%)');
  items.forEach(([name, color], i) => {
    const s = document.createElement('div');
    s.className = 'swatch';
    s.style.top = (firstY + i * 19.3) + 'px';
    s.style.height = '19.3px';
    s.style.background = color;
    document.body.appendChild(s);
    note(name, 850, firstY + i * 19.3 + 9.6, 'font:12px ' + SANS + ';color:#222', 'translate(0,-50%)');
  });
}
legendGroup('Leukemia', 323.5, legendLeukemia, 332.7);
legendGroup('KMT2A_Status', 410, legendStatus, 419.3);
legendGroup('KMT2A_r', 478, legendR, 487);

// panel letters
[['A', 10, 10], ['B', 9, 252], ['C', 710, 10], ['D', 392, 252]].forEach(([t, x, y]) => {
  note(t, x, y, 'font:bold 22px ' + SANS + ';color:#111');
});
</script>
</body>
</html>
